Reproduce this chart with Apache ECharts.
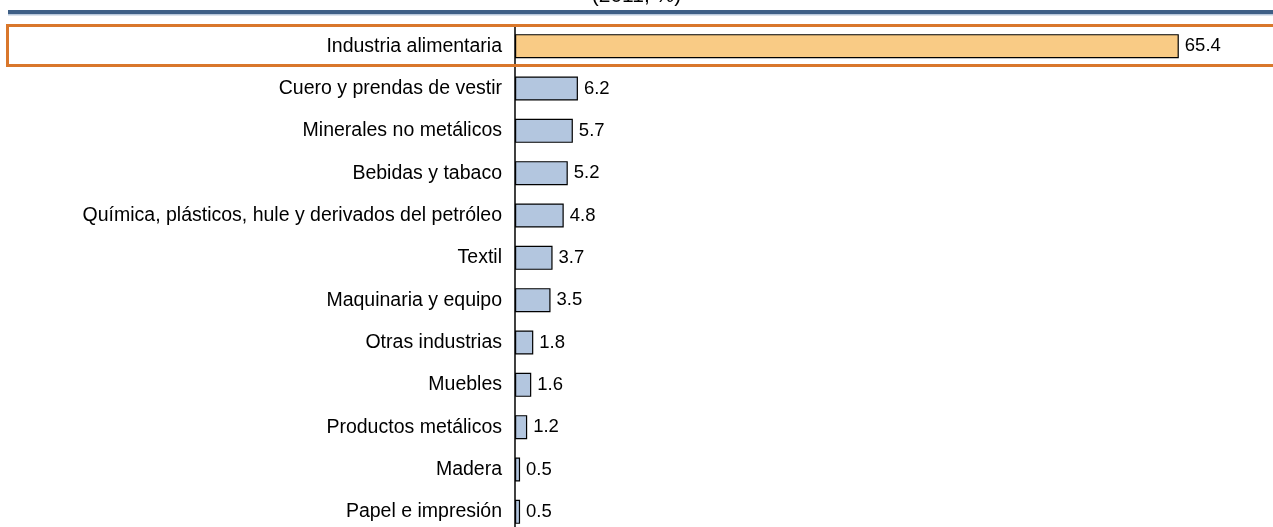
<!DOCTYPE html>
<html><head><meta charset="utf-8">
<script src="https://cdn.jsdelivr.net/npm/echarts@6/dist/echarts.min.js"></script>
<style>html,body{margin:0;padding:0;background:#fff;}#c{width:1273px;height:527px;}</style>
</head><body><div id="c"></div>
<script>
const categories = ["Industria alimentaria","Cuero y prendas de vestir","Minerales no metálicos","Bebidas y tabaco","Química, plásticos, hule y derivados del petróleo","Textil","Maquinaria y equipo","Otras industrias","Muebles","Productos metálicos","Madera","Papel e impresión"];
const values = [65.4,6.2,5.7,5.2,4.8,3.7,3.5,1.8,1.6,1.2,0.5,0.5];
const subtitle = "(2011, %)";

const chart = echarts.init(document.getElementById('c'), null, {renderer:'canvas'});
const font = 'Liberation Sans, Arial, sans-serif';
chart.setOption({
  animation:false,
  backgroundColor:'#fff',
  grid:{left:515, top:25, width:710.5, height:508, containLabel:false, outerBoundsMode:'none'},
  xAxis:{type:'value', min:0, max:70, show:false},
  yAxis:{type:'category', data:categories, inverse:true,
    axisLine:{show:true, lineStyle:{color:'#000', width:1.5}},
    axisTick:{show:false},
    axisLabel:{color:'#000', fontSize:19.5, fontFamily:font, margin:13}},
  series:[{type:'bar', data:values.map((v,i)=>({value:v, itemStyle:{color: i===0?'#F9CB85':'#B3C6DF'}})),
    barWidth:24,
    itemStyle:{borderColor:'#000', borderWidth:1.2},
    label:{show:true, position:'right', distance:6, color:'#000', fontSize:18.5, fontFamily:font, formatter:p=>p.value.toFixed(1)}}],
  graphic:[
    {type:'text', left:'center', top:-14, style:{text:subtitle, fontSize:21, fontFamily:font, fill:'#000'}},
    {type:'rect', shape:{x:8, y:10, width:1270, height:4}, style:{fill:'#3E5F86'}},
    {type:'rect', shape:{x:8, y:14, width:1270, height:1.5}, style:{fill:'#B8C7DA'}},
    {type:'rect', shape:{x:7.5, y:25.5, width:1280, height:40}, style:{fill:'none', stroke:'#D9772B', lineWidth:3}, z:100}
  ]
});
</script></body></html>
